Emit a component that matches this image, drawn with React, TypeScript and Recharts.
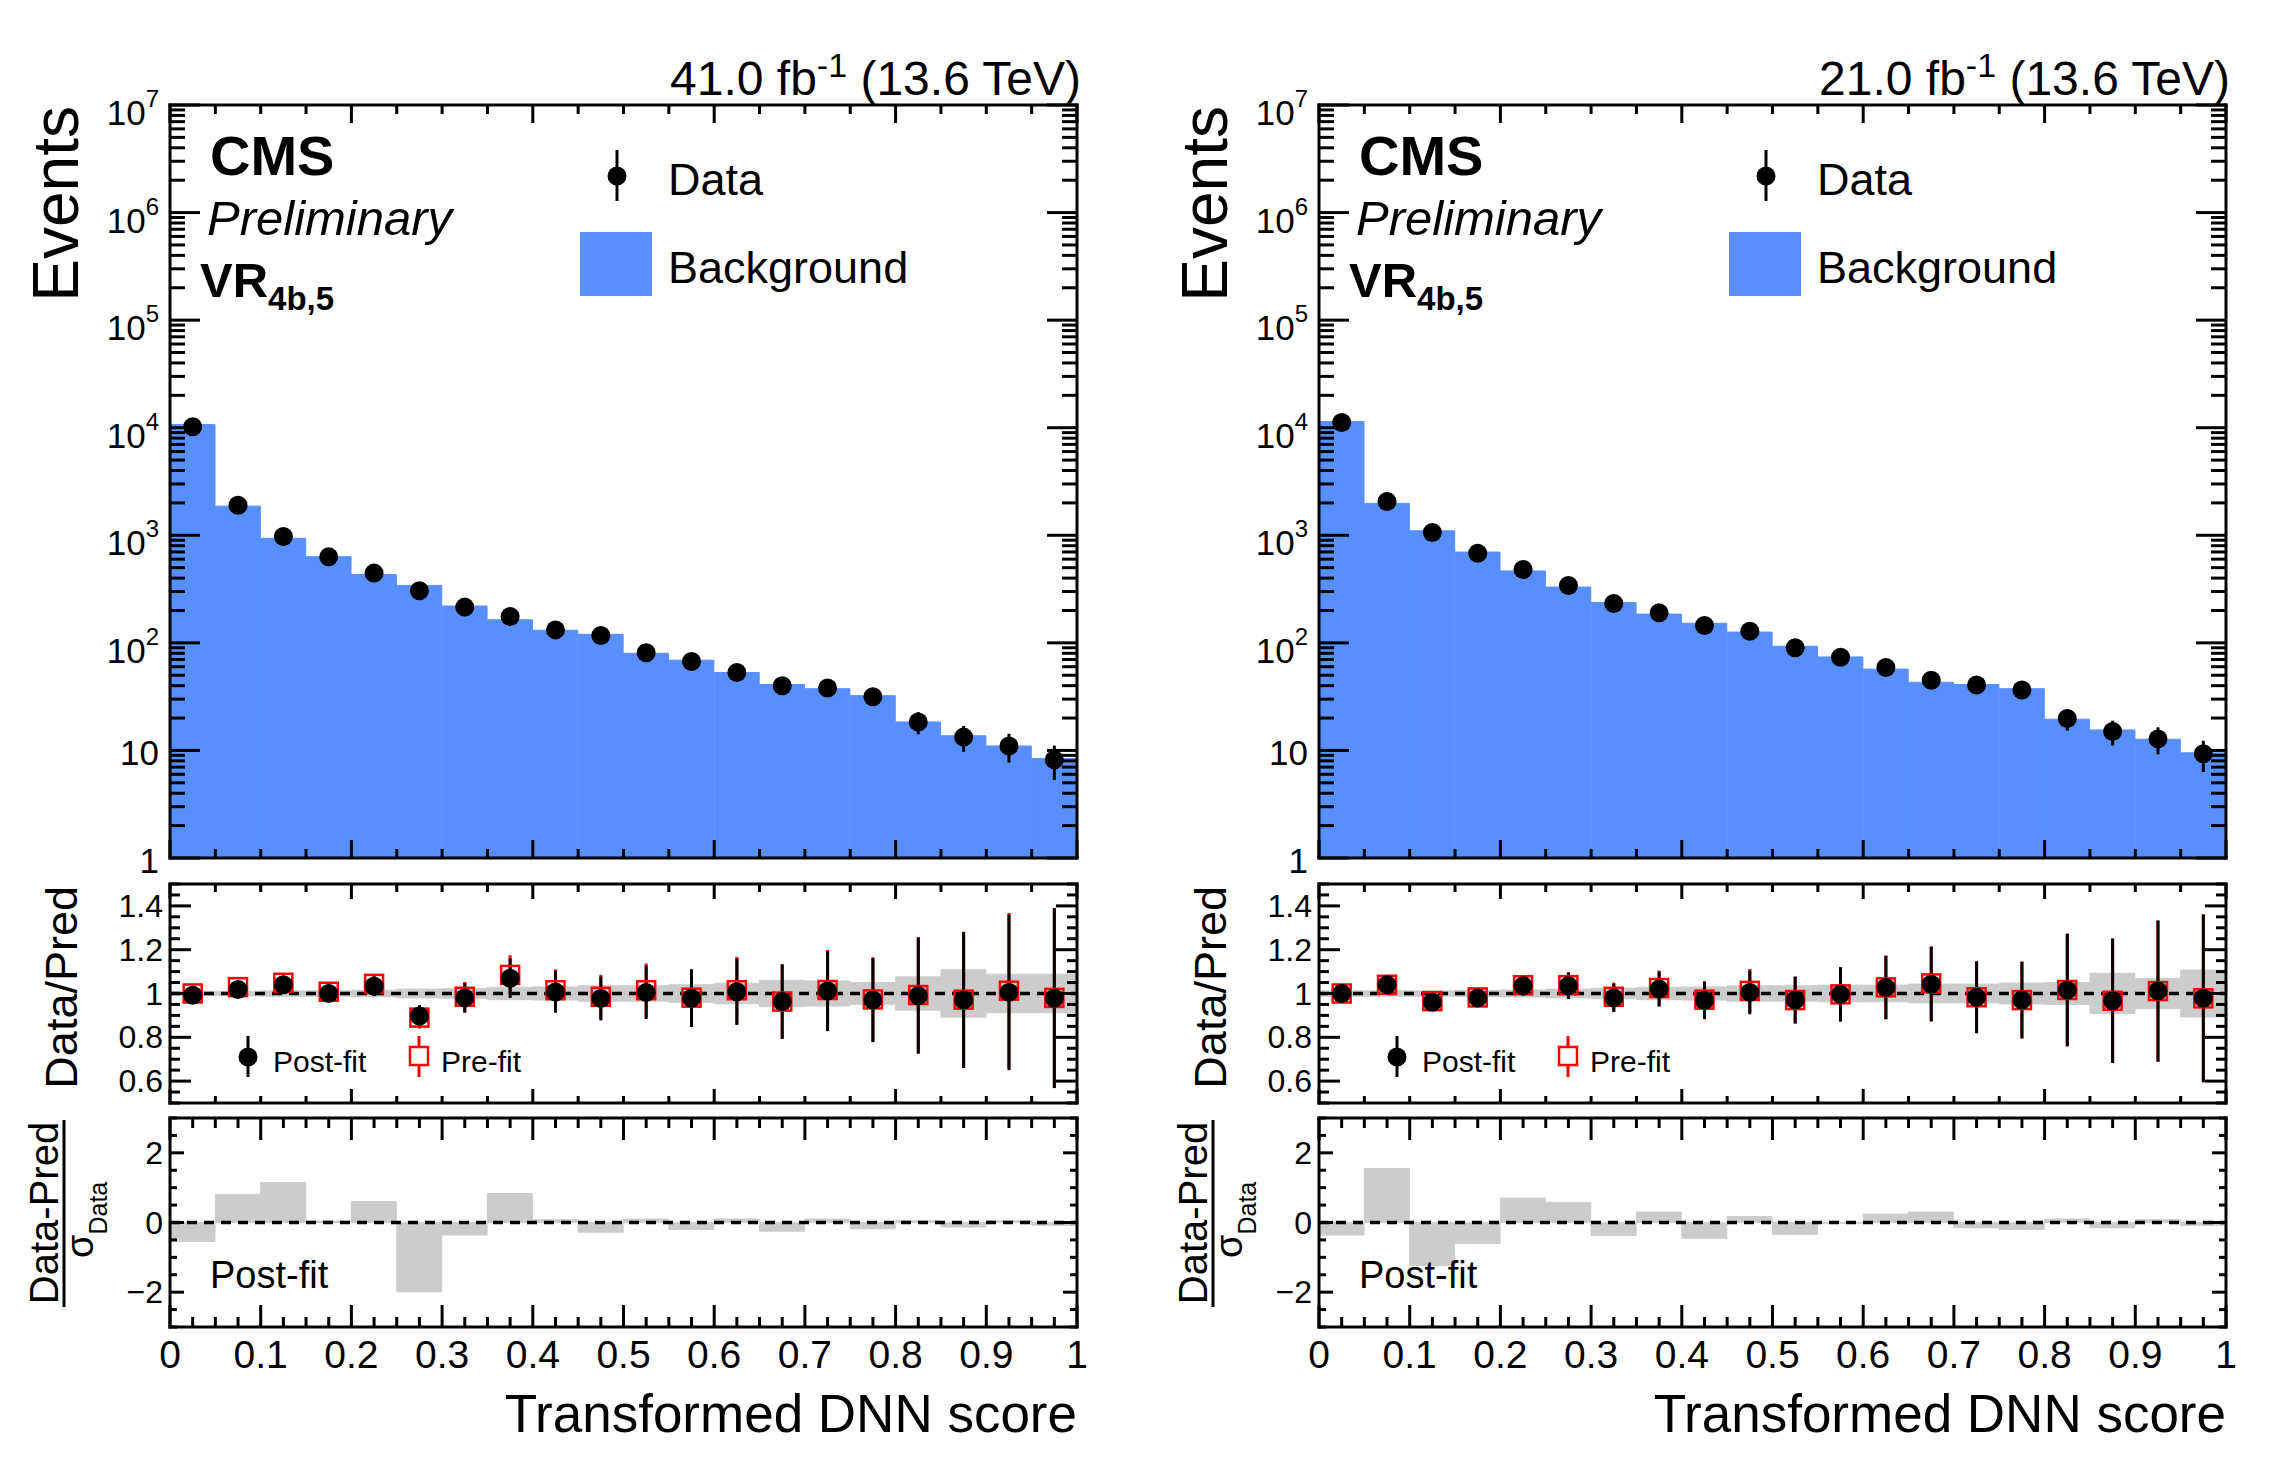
import React from 'react';
import { ComposedChart, Bar, Scatter, XAxis, YAxis, ErrorBar, ReferenceLine } from 'recharts';

const FONT = '"Liberation Sans", Arial, Helvetica, sans-serif';
const BLUE = '#5790fc';
const GREY = '#cccccc';
const RED = '#ff0000';

// bin centres of the transformed DNN score, 20 bins of width 0.05
const binCenters = [
  0.025, 0.075, 0.125, 0.175, 0.225, 0.275, 0.325, 0.375, 0.425, 0.475,
  0.525, 0.575, 0.625, 0.675, 0.725, 0.775, 0.825, 0.875, 0.925, 0.975,
];

// ---- left panel (41.0 fb-1) ----
const bkgLeft = [10700, 1865, 937, 632, 432, 342, 220, 164, 131, 120, 80, 69, 53, 41, 37.5, 32.3, 18.4, 13.7, 11, 8.4];
const dataLeft = [10200, 1900, 975, 630, 445, 305, 215, 176, 132, 117, 81, 67, 53, 40, 38, 31.5, 18.4, 13.3, 11, 8.2];
const dataErrLeft = [100, 44, 31, 25, 21, 17, 15, 13, 11.5, 11, 9, 8.2, 7.3, 6.3, 6.2, 5.6, 4.3, 3.6, 3.3, 2.9];
const postLeft = [0.992, 1.018, 1.04, 1.0, 1.033, 0.897, 0.98, 1.07, 1.007, 0.977, 1.005, 0.978, 1.008, 0.963, 1.011, 0.97, 0.99, 0.97, 1.005, 0.978];
const preLeft = [1.0, 1.029, 1.049, 1.008, 1.044, 0.89, 0.985, 1.085, 1.015, 0.985, 1.015, 0.981, 1.015, 0.963, 1.016, 0.973, 0.993, 0.972, 1.013, 0.98];
const ratioErrLeft = [0.012, 0.025, 0.032, 0.037, 0.045, 0.05, 0.068, 0.09, 0.095, 0.1, 0.122, 0.131, 0.152, 0.17, 0.183, 0.192, 0.265, 0.31, 0.355, 0.41];
const bandLeft = [0.01, 0.01, 0.012, 0.012, 0.015, 0.02, 0.022, 0.028, 0.03, 0.035, 0.035, 0.04, 0.047, 0.06, 0.057, 0.05, 0.076, 0.108, 0.088, 0.088];
const pullLeft = [-0.54, 0.81, 1.15, 0.04, 0.6, -1.99, -0.36, 0.83, 0.08, -0.28, 0.1, -0.2, 0.1, -0.25, 0.1, -0.18, 0.05, -0.13, 0.05, -0.08];

// ---- right panel (21.0 fb-1) ----
const bkgRight = [11400, 1980, 1100, 698, 466, 330, 237, 185, 152, 126, 93, 74, 57, 43, 41, 37.5, 19.5, 15.5, 12.7, 9.5];
const dataRight = [11200, 2060, 1060, 680, 480, 342, 232, 190, 145, 128, 90, 73.5, 59, 45, 40.5, 36.5, 19.8, 15, 12.8, 9.3];
const dataErrRight = [105, 45, 33, 26, 22, 18.5, 15, 13.8, 12, 11.3, 9.5, 8.6, 7.7, 6.7, 6.4, 6, 4.5, 3.9, 3.6, 3];
const postRight = [1.0, 1.04, 0.96, 0.98, 1.035, 1.035, 0.98, 1.02, 0.968, 1.005, 0.97, 0.996, 1.027, 1.042, 0.983, 0.97, 1.016, 0.967, 1.011, 0.978];
const preRight = [1.0, 1.04, 0.965, 0.982, 1.038, 1.038, 0.985, 1.025, 0.972, 1.012, 0.97, 0.996, 1.028, 1.046, 0.983, 0.97, 1.016, 0.967, 1.011, 0.978];
const ratioErrRight = [0.012, 0.025, 0.03, 0.035, 0.045, 0.06, 0.065, 0.08, 0.085, 0.1, 0.107, 0.124, 0.145, 0.17, 0.164, 0.175, 0.257, 0.284, 0.322, 0.383];
const bandRight = [0.012, 0.012, 0.012, 0.014, 0.016, 0.02, 0.024, 0.028, 0.03, 0.035, 0.035, 0.038, 0.038, 0.043, 0.043, 0.048, 0.05, 0.092, 0.069, 0.107];
const pullRight = [-0.36, 1.55, -1.24, -0.6, 0.7, 0.58, -0.37, 0.3, -0.45, 0.17, -0.34, -0.02, 0.24, 0.3, -0.15, -0.2, 0.1, -0.15, 0.08, -0.08];

// axis ticks
const logMajorTicks = [1, 10, 100, 1e3, 1e4, 1e5, 1e6, 1e7];
const ratioMajorTicks = [0.6, 0.8, 1, 1.2, 1.4];
const pullMajorTicks = [-2, 0, 2];

const steps = (a: number, b: number, s: number) =>
  Array.from({ length: Math.round((b - a) / s) + 1 }, (_, i) => +(a + i * s).toFixed(4));
const isMult = (v: number, s: number) => Math.abs(v / s - Math.round(v / s)) < 1e-6;

const logTicks = logMajorTicks.flatMap((d, i) =>
  i === logMajorTicks.length - 1 ? [d] : [1, 2, 3, 4, 5, 6, 7, 8, 9].map((m) => m * d)
);
const mainXTicks = steps(0, 1, 0.05);
const pullXTicks = steps(0, 1, 0.025);
const ratioYTicks = steps(0.5, 1.5, 0.05);
const pullYTicks = steps(-3, 3, 0.5);

// layout (page pixels)
const PLOT_W = 907;
const AXIS_W = 150;
const MT = 50;
const MR = 20;
const MAIN_TOP = 105;
const MAIN_H = 753;
const RATIO_TOP = 884;
const RATIO_H = 219;
const PULL_TOP = 1118;
const PULL_H = 209;

const FRAME = { stroke: '#000', strokeWidth: 3, strokeLinecap: 'square' as const };

type Side = 'left' | 'right' | 'top' | 'bottom';
type LabelFn = (v: number, x: number, y: number) => React.ReactNode;

// inward ROOT-style tick; `edge` is the frame coordinate across the axis
function makeTick(side: Side, edge: number, isMajor: (v: number) => boolean, majorLen: number, minorLen: number, label?: LabelFn) {
  return (p: any) => {
    const v = p.payload.value;
    const major = isMajor(v);
    const len = major ? majorLen : minorLen;
    const horiz = side === 'top' || side === 'bottom';
    const x = horiz ? p.x : edge;
    const y = horiz ? edge : p.y;
    let x2 = x;
    let y2 = y;
    if (side === 'left') x2 = x + len;
    if (side === 'right') x2 = x - len;
    if (side === 'bottom') y2 = y - len;
    if (side === 'top') y2 = y + len;
    return (
      <g>
        <line x1={x} y1={y} x2={x2} y2={y2} stroke="#000" strokeWidth={3} />
        {label && major ? label(v, x, y) : null}
      </g>
    );
  };
}

const logLabel: LabelFn = (v, x, y) => {
  const e = Math.round(Math.log10(v));
  if (e <= 1) {
    return (
      <text x={x - 11} y={y + 15} textAnchor="end" fontSize={35} fontFamily={FONT} fill="#000">
        {e === 0 ? '1' : '10'}
      </text>
    );
  }
  return (
    <text x={x - 11} y={y + 20} textAnchor="end" fontSize={35} fontFamily={FONT} fill="#000">
      10<tspan fontSize={24} dy={-18}>{e}</tspan>
    </text>
  );
};

const ratioLabel: LabelFn = (v, x, y) => (
  <text x={x - 7} y={y + 11} textAnchor="end" fontSize={32} fontFamily={FONT} fill="#000">
    {v === 1 ? '1' : v.toFixed(1)}
  </text>
);

const pullYLabel: LabelFn = (v, x, y) => (
  <text x={x - 7} y={y + 11} textAnchor="end" fontSize={32} fontFamily={FONT} fill="#000">
    {v < 0 ? `\u2212${-v}` : `${v}`}
  </text>
);

const pullXLabel: LabelFn = (v, x, y) => (
  <text x={x} y={y + 41} textAnchor="middle" fontSize={39} fontFamily={FONT} fill="#000">
    {v === 0 ? '0' : v === 1 ? '1' : v.toFixed(1)}
  </text>
);

const DataDot = (p: any) => <circle cx={p.cx} cy={p.cy} r={9.5} fill="#000" />;
const PreSquare = (p: any) => (
  <rect x={p.cx - 9} y={p.cy - 9} width={18} height={18} fill="none" stroke={RED} strokeWidth={2.5} />
);
const DashedLine = (p: any) => (
  <line x1={p.x1} y1={p.y1} x2={p.x2} y2={p.y2} stroke="#000" strokeWidth={3.5} strokeDasharray="10 7" />
);

type AxisCfg = {
  plotH: number;
  xTicks: number[];
  xMajor: (v: number) => boolean;
  xLens: [number, number, number, number];
  yTicks: number[];
  yDomain: [number, number];
  yMajor: (v: number) => boolean;
  yLens: [number, number];
  yLabel: LabelFn;
  log: boolean;
  bottomH: number;
  xLabel?: LabelFn;
};

// frame axes shared by all three pads (frame lines + inward ticks on all four sides)
function frameAxes(c: AxisCfg) {
  const common = { tickSize: 0, tickMargin: 0, tickLine: false, axisLine: FRAME, interval: 0 as const, allowDataOverflow: true };
  const top = MT + 1;
  const bottom = MT + 1 + c.plotH;
  const left = AXIS_W;
  const right = AXIS_W + PLOT_W;
  return [
    <XAxis key="num" xAxisId="num" dataKey="x" type="number" domain={[0, 1]} ticks={c.xTicks} height={c.bottomH}
      tick={makeTick('bottom', bottom, c.xMajor, c.xLens[2], c.xLens[3], c.xLabel)} {...common} />,
    <XAxis key="cat" xAxisId="cat" dataKey="x" type="category" hide height={0} />,
    <XAxis key="top" xAxisId="top" orientation="top" dataKey="x" type="number" domain={[0, 1]} ticks={c.xTicks} height={1}
      tick={makeTick('top', top, c.xMajor, c.xLens[0], c.xLens[1])} {...common} />,
    <YAxis key="l" yAxisId="l" type="number" scale={c.log ? 'log' : 'linear'} domain={c.yDomain} ticks={c.yTicks} width={AXIS_W}
      tick={makeTick('left', left, c.yMajor, c.yLens[0], c.yLens[1], c.yLabel)} {...common} />,
    <YAxis key="r" yAxisId="r" orientation="right" type="number" scale={c.log ? 'log' : 'linear'} domain={c.yDomain} ticks={c.yTicks} width={1}
      tick={makeTick('right', right, c.yMajor, c.yLens[0], c.yLens[1])} {...common} />,
  ];
}

type PanelData = {
  lumi: string;
  bkg: number[];
  data: number[];
  dataErr: number[];
  post: number[];
  pre: number[];
  ratioErr: number[];
  band: number[];
  pull: number[];
};

function Panel({ d, dx }: { d: PanelData; dx: number }) {
  const mainRows = binCenters.map((x, i) => ({ x, bkg: d.bkg[i], data: d.data[i], err: d.dataErr[i] }));
  const ratioRows = binCenters.map((x, i) => ({
    x,
    post: d.post[i],
    pre: d.pre[i],
    err: d.ratioErr[i],
    band: [1 - d.band[i], 1 + d.band[i]],
  }));
  const pullRows = binCenters.map((x, i) => ({ x, pull: d.pull[i] }));
  const W = AXIS_W + PLOT_W + 1 + MR;
  const left = 170 + dx - AXIS_W;
  const isLogMajor = (v: number) => logMajorTicks.includes(v);
  const isRatioMajor = (v: number) => ratioMajorTicks.some((t) => Math.abs(t - v) < 1e-6);

  return (
    <>
      <div style={{ position: 'absolute', left, top: MAIN_TOP - MT - 1 }}>
        <ComposedChart width={W} height={MT + 1 + MAIN_H + 1 + 30} data={mainRows}
          margin={{ top: MT, right: MR, bottom: 30, left: 0 }} barCategoryGap={0} barGap={0}>
          {frameAxes({
            plotH: MAIN_H, xTicks: mainXTicks, xMajor: (v) => isMult(v, 0.2), xLens: [18, 9, 18, 9],
            yTicks: logTicks, yDomain: [1, 1e7], yMajor: isLogMajor, yLens: [30, 15], yLabel: logLabel, log: true, bottomH: 1,
          })}
          <Bar xAxisId="cat" yAxisId="l" dataKey="bkg" fill={BLUE} stroke={BLUE} strokeWidth={1} isAnimationActive={false} />
          <Scatter xAxisId="num" yAxisId="l" dataKey="data" data={mainRows} shape={DataDot} isAnimationActive={false}>
            <ErrorBar dataKey="err" direction="y" width={0} stroke="#000" strokeWidth={3} />
          </Scatter>
        </ComposedChart>
      </div>

      <div style={{ position: 'absolute', left, top: RATIO_TOP - MT - 1 }}>
        <ComposedChart width={W} height={MT + 1 + RATIO_H + 1 + 10} data={ratioRows}
          margin={{ top: MT, right: MR, bottom: 10, left: 0 }} barCategoryGap={0} barGap={0}>
          {frameAxes({
            plotH: RATIO_H, xTicks: mainXTicks, xMajor: (v) => isMult(v, 0.2), xLens: [15, 8, 14, 7],
            yTicks: ratioYTicks, yDomain: [0.5, 1.5], yMajor: isRatioMajor, yLens: [21, 10], yLabel: ratioLabel, log: false, bottomH: 1,
          })}
          <Bar xAxisId="cat" yAxisId="l" dataKey="band" fill={GREY} stroke={GREY} strokeWidth={1} isAnimationActive={false} />
          <ReferenceLine xAxisId="num" yAxisId="l" y={1} shape={DashedLine} />
          <Scatter xAxisId="num" yAxisId="l" dataKey="pre" data={ratioRows} shape={PreSquare} isAnimationActive={false}>
            <ErrorBar dataKey="err" direction="y" width={0} stroke={RED} strokeWidth={3} />
          </Scatter>
          <Scatter xAxisId="num" yAxisId="l" dataKey="post" data={ratioRows} shape={DataDot} isAnimationActive={false}>
            <ErrorBar dataKey="err" direction="y" width={0} stroke="#000" strokeWidth={3} />
          </Scatter>
        </ComposedChart>
      </div>

      <div style={{ position: 'absolute', left, top: PULL_TOP - MT - 1 }}>
        <ComposedChart width={W} height={MT + 1 + PULL_H + 60 + 10} data={pullRows}
          margin={{ top: MT, right: MR, bottom: 10, left: 0 }} barCategoryGap={0} barGap={0}>
          {frameAxes({
            plotH: PULL_H, xTicks: pullXTicks, xMajor: (v) => isMult(v, 0.1), xLens: [22, 10, 22, 10],
            yTicks: pullYTicks, yDomain: [-3, 3], yMajor: (v) => pullMajorTicks.includes(v), yLens: [14, 7], yLabel: pullYLabel,
            log: false, bottomH: 60, xLabel: pullXLabel,
          })}
          <Bar xAxisId="cat" yAxisId="l" dataKey="pull" fill={GREY} stroke={GREY} strokeWidth={1} isAnimationActive={false} />
          <ReferenceLine xAxisId="num" yAxisId="l" y={0} shape={DashedLine} />
        </ComposedChart>
      </div>
    </>
  );
}

function Annotations({ dx, lumi }: { dx: number; lumi: string }) {
  return (
    <g transform={`translate(${dx},0)`}>
      <text x={1081} y={95} textAnchor="end" fontSize={48}>
        {lumi} fb<tspan fontSize={34} dy={-18}>-1</tspan>
        <tspan dy={18}>{' (13.6 TeV)'}</tspan>
      </text>
      <text x={210} y={175} fontSize={56} fontWeight="bold">CMS</text>
      <text x={207} y={235} fontSize={49} fontStyle="italic">Preliminary</text>
      <text x={200} y={297} fontSize={49} fontWeight="bold">
        VR<tspan fontSize={33} dy={13}>4b,5</tspan>
      </text>

      {/* legend */}
      <line x1={617} x2={617} y1={150} y2={201} stroke="#000" strokeWidth={3} />
      <circle cx={617} cy={176} r={9.5} fill="#000" />
      <text x={668} y={195} fontSize={45}>Data</text>
      <rect x={580} y={232} width={72} height={64} fill={BLUE} />
      <text x={668} y={283} fontSize={45}>Background</text>

      <text transform="translate(78,106) rotate(-90)" textAnchor="end" fontSize={64}>Events</text>
      <text transform="translate(77,886) rotate(-90)" textAnchor="end" fontSize={45}>Data/Pred</text>

      {/* ratio legend */}
      <line x1={248} x2={248} y1={1036} y2={1077} stroke="#000" strokeWidth={3} />
      <circle cx={248} cy={1057} r={9.5} fill="#000" />
      <text x={273} y={1072} fontSize={30}>Post-fit</text>
      <line x1={419} x2={419} y1={1036} y2={1077} stroke={RED} strokeWidth={3} />
      <rect x={410} y={1047} width={18} height={18} fill="#fff" stroke={RED} strokeWidth={2.5} />
      <text x={441} y={1072} fontSize={30}>Pre-fit</text>

      {/* pull axis title */}
      <text transform="translate(58,1213) rotate(-90)" textAnchor="middle" fontSize={40}>Data-Pred</text>
      <line x1={64} x2={64} y1={1120} y2={1307} stroke="#000" strokeWidth={3} />
      <text transform="translate(93,1258) rotate(-90)" fontSize={38}>
        σ<tspan fontSize={25} dy={14}>Data</tspan>
      </text>
      <text x={210} y={1288} fontSize={38}>Post-fit</text>

      <text x={1077} y={1432} textAnchor="end" fontSize={53}>Transformed DNN score</text>
    </g>
  );
}

const leftPanel: PanelData = {
  lumi: '41.0', bkg: bkgLeft, data: dataLeft, dataErr: dataErrLeft, post: postLeft, pre: preLeft,
  ratioErr: ratioErrLeft, band: bandLeft, pull: pullLeft,
};
const rightPanel: PanelData = {
  lumi: '21.0', bkg: bkgRight, data: dataRight, dataErr: dataErrRight, post: postRight, pre: preRight,
  ratioErr: ratioErrRight, band: bandRight, pull: pullRight,
};

const RIGHT_DX = 1149;

export default function App() {
  return (
    <div style={{ position: 'absolute', left: 0, top: 0, width: 2284, height: 1468, background: '#fff', overflow: 'hidden', fontFamily: FONT }}>
      <Panel d={leftPanel} dx={0} />
      <Panel d={rightPanel} dx={RIGHT_DX} />
      <svg width={2284} height={1468} style={{ position: 'absolute', left: 0, top: 0, pointerEvents: 'none' }}
        fontFamily={FONT} fill="#000">
        <Annotations dx={0} lumi={leftPanel.lumi} />
        <Annotations dx={RIGHT_DX} lumi={rightPanel.lumi} />
      </svg>
    </div>
  );
}
